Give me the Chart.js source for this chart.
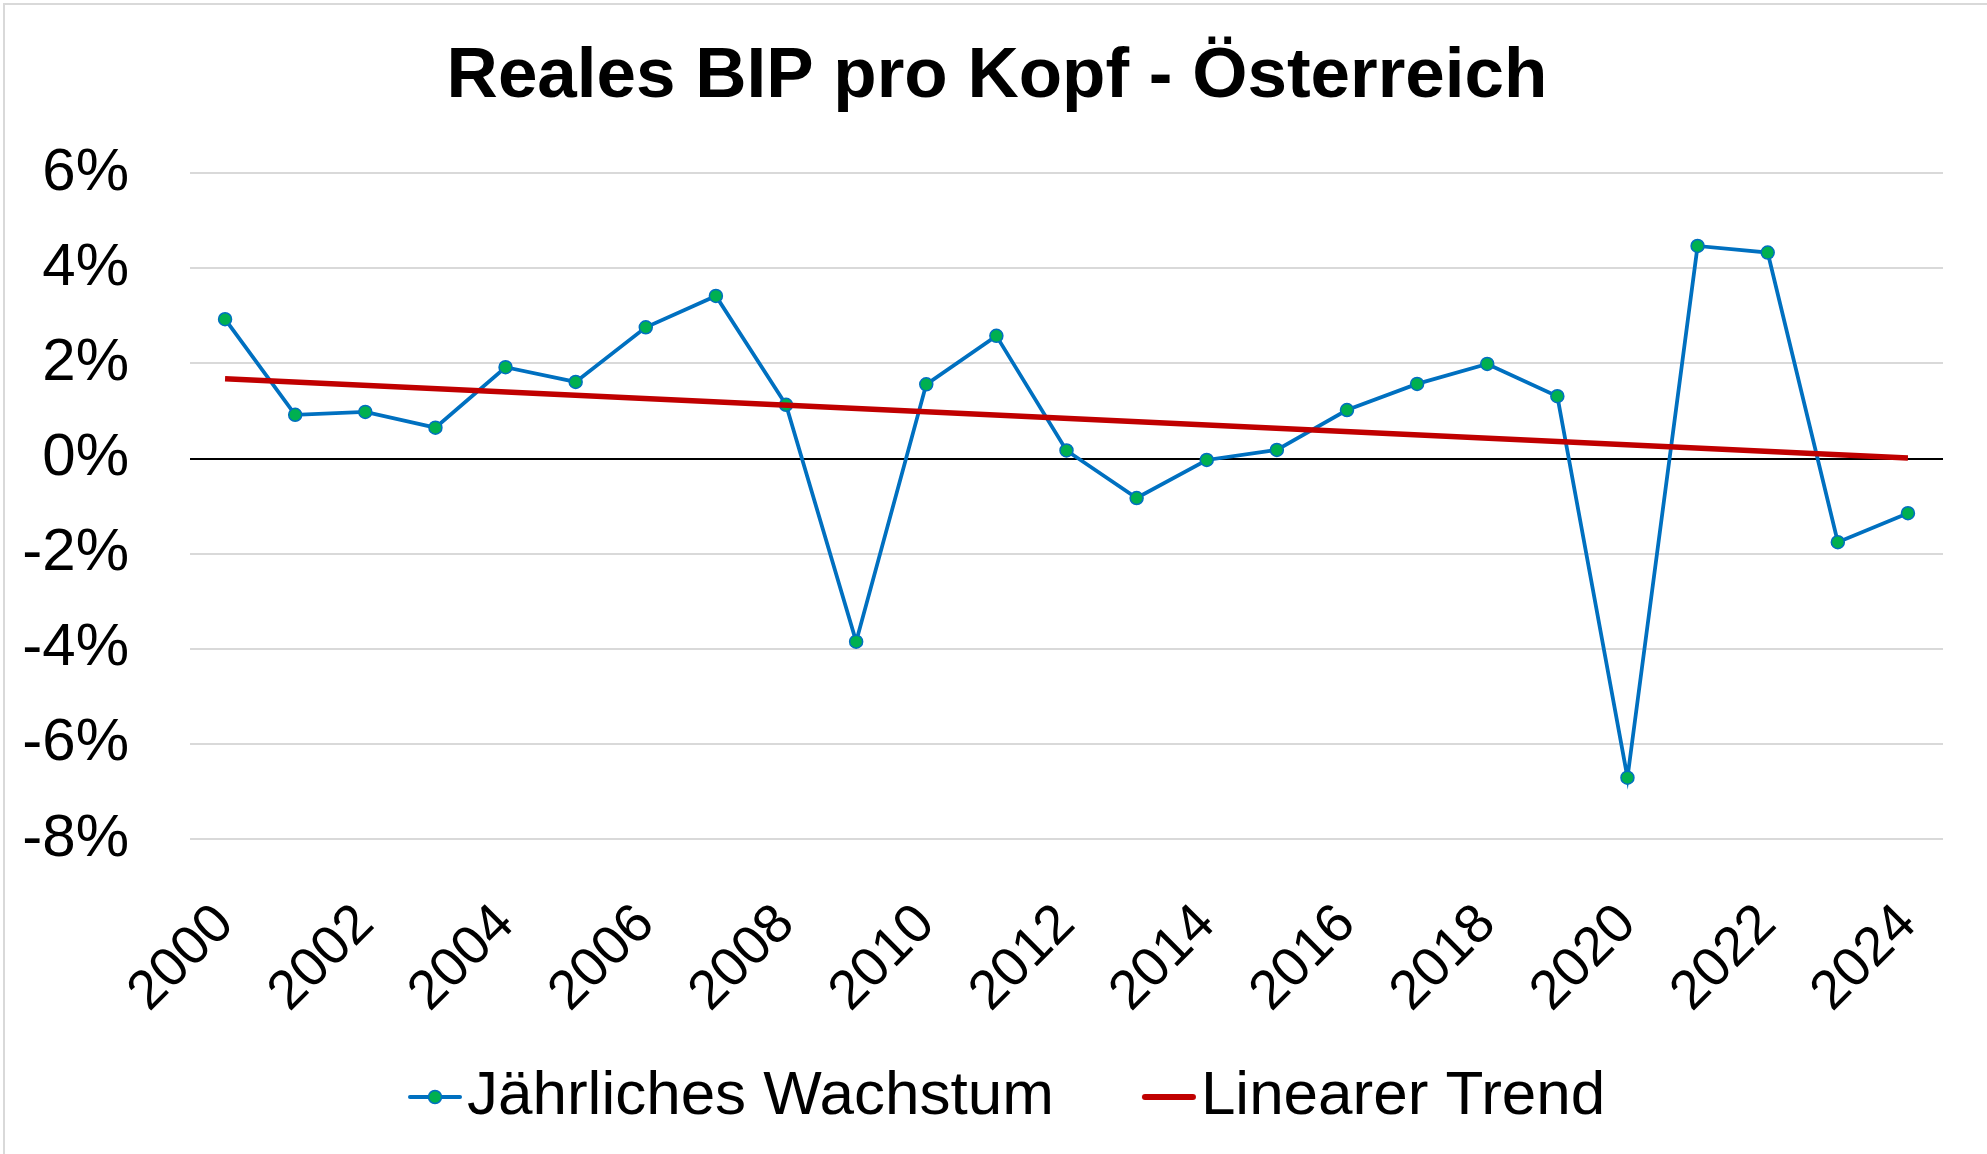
<!DOCTYPE html>
<html>
<head>
<meta charset="utf-8">
<script src="https://cdn.jsdelivr.net/npm/chart.js@4"></script>
<style>
  html, body { margin: 0; padding: 0; background: #fff; }
  #wrap { width: 1987px; height: 1154px; position: relative; }
</style>
</head>
<body>
<div id="wrap"><canvas id="c" width="1987" height="1154"></canvas></div>
<script>
const chartTitle = 'Reales BIP pro Kopf - Österreich';
const years = ['2000','2001','2002','2003','2004','2005','2006','2007','2008','2009','2010','2011','2012',
               '2013','2014','2015','2016','2017','2018','2019','2020','2021','2022','2023','2024'];
const growth = [2.93, 0.92, 0.98, 0.65, 1.92, 1.61, 2.76, 3.42, 1.13, -3.85, 1.56, 2.58, 0.17,
                -0.83, -0.03, 0.18, 1.02, 1.57, 1.99, 1.31, -6.71, 4.47, 4.33, -1.76, -1.15];
// trend line: read start and end values only
const trend = [1.68, null, null, null, null, null, null, null, null, null, null, null, null,
               null, null, null, null, null, null, null, null, null, null, null, 0.01];
const seriesNames = ['Jährliches Wachstum', 'Linearer Trend'];
const yTicks = [-8, -6, -4, -2, 0, 2, 4, 6];

const BLUE = '#0070C0', GREEN = '#00B050', RED = '#C00000';

function makeIcon1() {
  const c = document.createElement('canvas');
  c.width = 54; c.height = 18;
  const g = c.getContext('2d');
  g.strokeStyle = BLUE; g.lineWidth = 4; g.lineCap = 'round';
  g.beginPath(); g.moveTo(2, 9); g.lineTo(52, 9); g.stroke();
  g.beginPath(); g.arc(27, 9, 6.5, 0, Math.PI * 2);
  g.fillStyle = GREEN; g.fill(); g.lineWidth = 1.5; g.strokeStyle = BLUE; g.stroke();
  return c;
}
function makeIcon2() {
  const c = document.createElement('canvas');
  c.width = 56; c.height = 18;
  const g = c.getContext('2d');
  g.strokeStyle = RED; g.lineWidth = 6; g.lineCap = 'round';
  g.beginPath(); g.moveTo(4, 9); g.lineTo(52, 9); g.stroke();
  return c;
}
const icons = [makeIcon1(), makeIcon2()];

const LEGEND_FONT = 62;
const LEGEND_PAD = 114;
const LEGEND_H = 90;
const LEGEND_FIRST_X = 434;
const LEGEND_TEXT_Y = 1097;
const TITLE_CENTER_X = 997;

const layoutPlugin = {
  id: 'layoutTweaks',
  beforeLayout(chart) {
    const lg = chart.legend;
    if (lg && !lg._patched) {
      const orig = lg.fit.bind(lg);
      lg.fit = function () { orig(); this.height = LEGEND_H; };
      lg._patched = true;
    }
  },
  afterLayout(chart) {
    const lg = chart.legend;
    if (lg && lg.lineWidths) {
      const L = lg.lineWidths[0];
      const s = (2 * LEGEND_FIRST_X - lg.left - LEGEND_PAD - lg.right + L) / 2;
      lg.left += s; lg.right += s;
      lg.top = LEGEND_TEXT_Y - LEGEND_PAD - LEGEND_FONT / 2;
      lg.bottom = chart.height;
      lg.height = lg.bottom - lg.top;
    }
    const tb = chart.titleBlock;
    if (tb) {
      const d = TITLE_CENTER_X - (tb.left + tb.right) / 2;
      tb.left += d; tb.right += d;
    }
  },
  beforeDraw(chart) {
    const ctx = chart.ctx;
    ctx.save();
    ctx.fillStyle = '#fff';
    ctx.fillRect(0, 0, chart.width, chart.height);
    ctx.strokeStyle = '#D9D9D9';
    ctx.lineWidth = 2;
    ctx.strokeRect(4, 4, chart.width + 20, chart.height + 20);
    ctx.restore();
  }
};

new Chart(document.getElementById('c'), {
  type: 'line',
  data: {
    labels: years,
    datasets: [
      {
        label: seriesNames[0],
        data: growth,
        borderColor: BLUE,
        borderWidth: 3.8,
        backgroundColor: GREEN,
        pointBackgroundColor: GREEN,
        pointBorderColor: BLUE,
        pointBorderWidth: 1.5,
        pointRadius: 6.5,
        tension: 0,
        order: 2
      },
      {
        label: seriesNames[1],
        data: trend,
        borderColor: RED,
        borderWidth: 5.5,
        backgroundColor: RED,
        pointRadius: 0,
        spanGaps: true,
        tension: 0,
        order: 1
      }
    ]
  },
  options: {
    responsive: false,
    animation: false,
    devicePixelRatio: 1,
    layout: { padding: { left: 0, right: 44, top: 0, bottom: 0 } },
    plugins: {
      title: {
        display: true,
        text: chartTitle,
        color: '#000',
        font: { family: 'Liberation Sans', size: 71, weight: 'bold' },
        padding: { top: 35, bottom: 53 }
      },
      legend: {
        position: 'bottom',
        labels: {
          color: '#000',
          font: { family: 'Liberation Sans', size: LEGEND_FONT },
          usePointStyle: true,
          pointStyleWidth: 2,
          padding: LEGEND_PAD,
          generateLabels(chart) {
            return chart.data.datasets.map((ds, i) => ({
              text: ds.label,
              pointStyle: icons[i],
              fillStyle: ds.borderColor,
              strokeStyle: ds.borderColor,
              lineWidth: 0,
              hidden: false,
              datasetIndex: i,
              fontColor: '#000'
            }));
          }
        }
      },
      tooltip: { enabled: false }
    },
    scales: {
      x: {
        type: 'category',
        offset: true,
        grid: { display: false, drawTicks: false },
        border: { display: false },
        afterFit(s) { s.height = 225; s.paddingLeft = 0; s.paddingRight = 0; },
        ticks: {
          autoSkip: false,
          maxRotation: 45,
          minRotation: 45,
          padding: 53,
          color: '#000',
          font: { family: 'Liberation Sans', size: 55 },
          callback(v, i) { return i % 2 === 0 ? years[i] : ''; }
        }
      },
      y: {
        min: yTicks[0],
        max: yTicks[yTicks.length - 1],
        afterFit(s) { s.width = 190; },
        afterBuildTicks(s) { s.ticks = yTicks.map(v => ({ value: v })); },
        grid: {
          drawTicks: false,
          color: c => (c.tick && c.tick.value === 0) ? '#000000' : '#D9D9D9',
          lineWidth: 2
        },
        border: { display: false },
        ticks: {
          padding: 61,
          color: '#000',
          font: { family: 'Liberation Sans', size: 60 },
          callback: v => v + '%'
        }
      }
    }
  },
  plugins: [layoutPlugin]
});
</script>
</body>
</html>
